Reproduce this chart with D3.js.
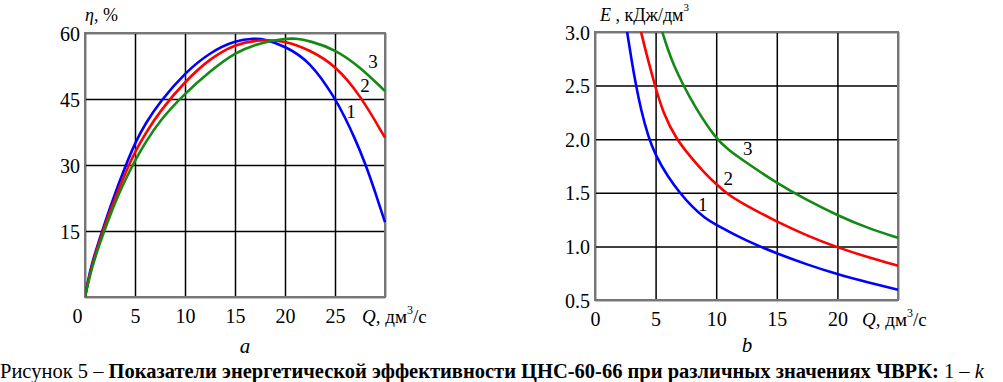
<!DOCTYPE html>
<html>
<head>
<meta charset="utf-8">
<script src="https://cdn.jsdelivr.net/npm/d3@7"></script>
<style>
  body { margin: 0; background: #fff; }
  svg { display: block; font-family: "Liberation Serif", "DejaVu Serif", serif; }
  .tick line { stroke: #000; stroke-width: 1.5; }
  .tick text { font-size: 20px; fill: #000; }
</style>
</head>
<body>
<svg id="fig" width="1003" height="382"></svg>
<script>
// chart a: efficiency eta(Q)
var qA1 = [0, 0.5, 1, 2, 3, 4, 5, 6, 7.5, 10, 12.5, 15, 17, 18, 20, 22.5, 25, 26, 27, 28, 29, 30];
var etaA1 = [0, 6, 10, 17, 23.5, 29.5, 35, 39.3, 44.4, 51, 55.6, 58.3, 58.8, 58.6, 57, 53.6, 45.2, 40.8, 36, 30.5, 24, 17];
var qA2 = [0, 0.5, 1, 2, 3, 4, 5, 6, 7.5, 10, 12.5, 15, 17.5, 20, 22.5, 25, 27.5, 30];
var etaA2 = [0, 5.5, 9.5, 16.5, 22.5, 28, 33, 37, 42.3, 49, 54.2, 57.5, 58.5, 58.3, 56.1, 52.7, 46, 36.2];
var qA3 = [0, 0.5, 1, 2, 3, 4, 5, 6, 7.5, 10, 12.5, 15, 17.5, 20, 21, 22.5, 25, 27.5, 30];
var etaA3 = [0, 5, 9, 15.5, 21.5, 26.5, 31, 35, 40.2, 46.3, 51.3, 55.6, 57.8, 58.7, 58.8, 58.2, 56.3, 52.3, 46.8];
var xTicksA = [0, 5, 10, 15, 20, 25];
var yTicksA = [15, 30, 45, 60];

// chart b: specific energy E(Q)
var qB1 = [2.65, 3.0, 3.35, 3.8, 4.4, 5, 6, 7, 8, 9, 10, 12.5, 15, 17.5, 20, 22.5, 25];
var eB1 = [3.0, 2.75, 2.52, 2.27, 2.02, 1.85, 1.65, 1.5, 1.37, 1.27, 1.2, 1.05, 0.935, 0.83, 0.74, 0.665, 0.595];
var qB2 = [3.8, 4.3, 4.95, 5.6, 6.7, 8, 9, 10, 11, 12.5, 15, 17.5, 20, 22.5, 25];
var eB2 = [3.0, 2.77, 2.5, 2.25, 2.0, 1.82, 1.69, 1.58, 1.48, 1.38, 1.23, 1.1, 0.99, 0.9, 0.82];
var qB3 = [5.55, 6, 6.5, 7.3, 8.25, 10, 11, 12.5, 15, 17.5, 20, 22.5, 25];
var eB3 = [3.0, 2.84, 2.69, 2.5, 2.3, 2.0, 1.9, 1.78, 1.59, 1.43, 1.29, 1.17, 1.08];
var xTicksB = [0, 5, 10, 15, 20];
var yTicksB = [0.5, 1.0, 1.5, 2.0, 2.5, 3.0];

var curveNames = ["1", "2", "3"];
var colors = ["#0000ff", "#ff0000", "#138a13"];

function zip(xs, ys) {
    return xs.map(function (v, i) { return [v, ys[i]]; });
}

var svg = d3.select("#fig");

function drawPanel(opt) {
    var g = svg.append("g");
    var x = d3.scaleLinear().domain(opt.xDomain).range([opt.left, opt.right]);
    var y = d3.scaleLinear().domain(opt.yDomain).range([opt.bottom, opt.top]);
    var w = opt.right - opt.left, h = opt.bottom - opt.top;

    // grid + tick labels
    var gx = g.append("g")
        .attr("transform", "translate(0," + opt.bottom + ")")
        .call(d3.axisBottom(x).tickValues(opt.gridX).tickSize(-h).tickFormat(function (d) {
            return opt.xTicks.indexOf(d) >= 0 ? d : "";
        }));
    gx.attr("font-family", null).attr("font-size", null);
    gx.select(".domain").remove();
    gx.selectAll(".tick text").attr("y", 26).attr("dy", 0);
    if (opt.zeroShift) {
        gx.selectAll(".tick text").filter(function (d) { return d === 0; }).attr("dx", opt.zeroShift);
    }

    var gy = g.append("g")
        .attr("transform", "translate(" + opt.left + ",0)")
        .call(d3.axisLeft(y).tickValues(opt.gridY).tickSize(-w).tickFormat(function (d) {
            return opt.yTicks.indexOf(d) >= 0 ? opt.yFormat(d) : "";
        }));
    gy.attr("font-family", null).attr("font-size", null);
    gy.select(".domain").remove();
    gy.selectAll(".tick text").attr("x", -5).attr("dy", "0.35em");

    g.append("rect")
        .attr("x", opt.left).attr("y", opt.top)
        .attr("width", w).attr("height", h)
        .attr("fill", "none").attr("stroke", "#777").attr("stroke-width", 2);

    var clipId = "clip" + opt.id;
    svg.append("clipPath").attr("id", clipId).append("rect")
        .attr("x", opt.left).attr("y", opt.top - 1).attr("width", w + 1).attr("height", h + 1);

    var line = d3.line()
        .x(function (d) { return x(d[0]); })
        .y(function (d) { return y(d[1]); })
        .curve(d3.curveBasis);

    g.append("g").attr("clip-path", "url(#" + clipId + ")")
        .selectAll("path").data(opt.series).enter().append("path")
        .attr("d", function (d) { return line(d); })
        .attr("fill", "none")
        .attr("stroke", function (d, i) { return colors[i]; })
        .attr("stroke-width", 2.6)
        .attr("stroke-linejoin", "round");

    g.selectAll("text.lbl").data(opt.labelPos).enter().append("text")
        .attr("class", "lbl")
        .attr("x", function (d) { return x(d[0]); })
        .attr("y", function (d) { return y(d[1]); })
        .attr("font-size", 19)
        .attr("text-anchor", "middle")
        .text(function (d, i) { return curveNames[i]; });

    return { x: x, y: y };
}

drawPanel({
    id: "a", left: 85, right: 385, top: 33, bottom: 297,
    xDomain: [0, 30], yDomain: [0, 60],
    gridX: [0, 5, 10, 15, 20, 25, 30], gridY: [0, 15, 30, 45, 60],
    xTicks: xTicksA, yTicks: yTicksA, yFormat: d3.format("d"),
    zeroShift: -8,
    series: [zip(qA1, etaA1), zip(qA2, etaA2), zip(qA3, etaA3)],
    labelPos: [[26.6, 40.7], [28, 46.7], [28.8, 52]]
});

drawPanel({
    id: "b", left: 595, right: 898, top: 32, bottom: 300,
    xDomain: [0, 25], yDomain: [0.5, 3.0],
    gridX: [0, 5, 10, 15, 20, 25], gridY: yTicksB,
    xTicks: xTicksB, yTicks: yTicksB, yFormat: d3.format(".1f"),
    series: [zip(qB1, eB1), zip(qB2, eB2), zip(qB3, eB3)],
    labelPos: [[8.9, 1.33], [11, 1.575], [12.6, 1.855]]
});

// axis titles
var t1 = svg.append("text").attr("x", 85).attr("y", 21).attr("font-size", 18);
t1.append("tspan").attr("font-style", "italic").text("η");
t1.append("tspan").text(", %");

var t2 = svg.append("text").attr("x", 600).attr("y", 21).attr("font-size", 18);
t2.append("tspan").attr("font-style", "italic").text("E");
t2.append("tspan").text(" , кДж/дм");
t2.append("tspan").attr("font-size", 11).attr("dy", -10).text("3");

function qLabel(x0, y0) {
    var t = svg.append("text").attr("x", x0).attr("y", y0).attr("font-size", 19);
    t.append("tspan").attr("font-style", "italic").text("Q");
    t.append("tspan").text(", дм");
    t.append("tspan").attr("font-size", 12).attr("dy", -9).text("3");
    t.append("tspan").attr("dy", 9).text("/с");
}
qLabel(362, 323);
qLabel(862, 326);

svg.append("text").attr("x", 245).attr("y", 353).attr("font-size", 21)
    .attr("font-style", "italic").attr("text-anchor", "middle").text("a");
svg.append("text").attr("x", 747).attr("y", 352).attr("font-size", 21)
    .attr("font-style", "italic").attr("text-anchor", "middle").text("b");

// caption
var cap = svg.append("text").attr("x", 0).attr("y", 378).attr("font-size", 20.5);
cap.append("tspan").text("Рисунок 5 – ");
cap.append("tspan").attr("font-weight", "bold")
    .text("Показатели энергетической эффективности ЦНС-60-66 при различных значениях ЧВРК: ");
cap.append("tspan").text("1 – ");
cap.append("tspan").attr("font-style", "italic").text("k");
</script>
</body>
</html>
